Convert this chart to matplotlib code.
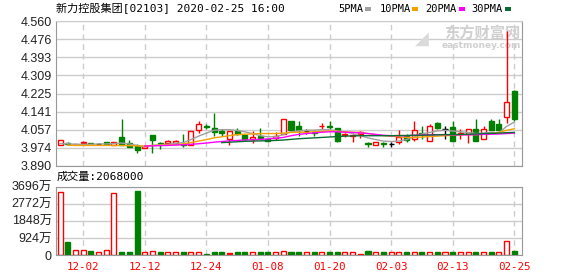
import matplotlib
matplotlib.use("Agg")
import matplotlib.pyplot as plt
from matplotlib.patches import Rectangle
import numpy as np

# ---- data ----
title = "新力控股集团[02103] 2020-02-25 16:00"
tick_pos = [3, 11, 19, 27, 35, 43, 51, 59]
tick_labels = ["12-02", "12-12", "12-24", "01-08", "01-20", "02-03", "02-13", "02-25"]
price_levels = [3.890, 3.974, 4.057, 4.141, 4.225, 4.309, 4.393, 4.476, 4.560]
price_labels = ["3.890", "3.974", "4.057", "4.141", "4.225", "4.309", "4.393", "4.476", "4.560"]
vol_levels = [0, 924, 1848, 2772, 3696]
vol_labels = ["0", "924万", "1848万", "2772万", "3696万"]
last_volume = "2068000"

opens = [3.987, 3.998, 3.990, 3.995, 3.995, 3.990, 4.000, 3.988, 4.026, 3.996,
         3.982, 3.975, 4.035, 3.996, 3.995, 3.995, 3.993, 3.988, 4.058, 4.076,
         4.064, 4.050, 4.015, 4.054, 4.034, 4.015, 4.027, 4.016, 4.020, 4.037,
         4.096, 4.076, 4.052, 4.046, 4.074, 4.075, 4.065, 4.034, 4.029, 4.040,
         3.995, 3.988, 3.995, 3.993, 4.002, 4.028, 4.017, 4.043, 4.005, 4.089,
         4.063, 4.068, 4.040, 4.036, 4.063, 4.015, 4.096, 4.086, 4.118, 4.237]
highs = [4.011, 4.002, 3.993, 4.005, 3.997, 3.994, 4.000, 4.003, 4.106, 4.012,
         3.993, 3.988, 4.035, 4.002, 4.011, 4.010, 4.038, 4.052, 4.096, 4.085,
         4.134, 4.062, 4.051, 4.064, 4.038, 4.051, 4.064, 4.020, 4.045, 4.106,
         4.096, 4.096, 4.063, 4.055, 4.088, 4.098, 4.066, 4.043, 4.036, 4.052,
         4.002, 4.002, 4.002, 4.002, 4.055, 4.036, 4.099, 4.076, 4.083, 4.095,
         4.074, 4.100, 4.062, 4.063, 4.106, 4.076, 4.106, 4.106, 4.515, 4.240]
lows = [3.987, 3.985, 3.988, 3.995, 3.990, 3.988, 3.990, 3.988, 3.988, 3.977,
        3.952, 3.972, 3.952, 3.969, 3.995, 3.995, 3.980, 3.988, 4.043, 4.063,
        4.030, 4.030, 3.987, 4.035, 4.012, 3.998, 4.015, 4.005, 4.012, 4.037,
        4.045, 4.028, 4.036, 4.030, 4.061, 4.060, 4.003, 4.026, 4.000, 4.018,
        3.980, 3.988, 3.980, 3.980, 3.992, 4.002, 4.005, 4.013, 4.005, 4.060,
        4.015, 4.005, 4.013, 3.994, 4.005, 4.015, 4.055, 4.055, 4.087, 4.100]
closes = [4.011, 3.993, 3.990, 4.000, 3.993, 3.990, 3.990, 4.003, 3.988, 3.977,
          3.966, 3.982, 4.012, 3.992, 4.004, 4.005, 3.987, 4.052, 4.085, 4.072,
          4.048, 4.042, 4.051, 4.038, 4.015, 4.026, 4.018, 4.007, 4.028, 4.106,
          4.057, 4.057, 4.052, 4.042, 4.077, 4.071, 4.005, 4.037, 4.033, 4.046,
          3.991, 4.000, 3.991, 3.993, 4.025, 4.010, 4.055, 4.039, 4.073, 4.065,
          4.063, 4.005, 4.044, 4.063, 4.005, 4.063, 4.055, 4.055, 4.185, 4.109]

nan = np.nan
ma5 = [3.993, 3.993, 3.990, 3.990, 3.990, 3.992, 3.992, 3.994, 3.996, 3.992,
       3.985, 3.980, 3.985, 3.988, 3.990, 3.995, 3.998, 4.012, 4.028, 4.042,
       4.055, 4.058, 4.058, 4.054, 4.048, 4.040, 4.030, 4.025, 4.025, 4.035,
       4.048, 4.052, 4.055, 4.056, 4.058, 4.058, 4.052, 4.048, 4.040, 4.030,
       4.020, 4.012, 4.005, 4.003, 4.005, 4.012, 4.025, 4.038, 4.045, 4.052,
       4.055, 4.052, 4.048, 4.045, 4.040, 4.042, 4.045, 4.043, 4.073, 4.093]
ma10 = [nan, 3.986, 3.985, 3.985, 3.985, 3.985, 3.985, 3.985, 3.985, 3.984,
        3.983, 3.982, 3.985, 3.986, 3.987, 3.988, 3.992, 3.998, 4.005, 4.012,
        4.020, 4.025, 4.030, 4.035, 4.037, 4.038, 4.040, 4.040, 4.040, 4.042,
        4.045, 4.046, 4.046, 4.048, 4.050, 4.052, 4.050, 4.048, 4.046, 4.045,
        4.040, 4.035, 4.030, 4.028, 4.025, 4.022, 4.022, 4.024, 4.026, 4.028,
        4.030, 4.032, 4.034, 4.035, 4.035, 4.038, 4.040, 4.045, 4.055, 4.062]
ma20 = [nan, nan, nan, nan, nan, nan, nan, nan, nan, nan,
        nan, 3.982, 3.983, 3.984, 3.985, 3.987, 3.988, 3.990, 3.993, 3.996,
        4.000, 4.003, 4.006, 4.008, 4.010, 4.011, 4.013, 4.015, 4.018, 4.022,
        4.030, 4.036, 4.040, 4.043, 4.046, 4.048, 4.048, 4.046, 4.045, 4.043,
        4.040, 4.036, 4.032, 4.030, 4.030, 4.030, 4.032, 4.033, 4.034, 4.035,
        4.035, 4.034, 4.034, 4.034, 4.035, 4.036, 4.037, 4.038, 4.040, 4.042]
ma30 = [nan, nan, nan, nan, nan, nan, nan, nan, nan, nan,
        nan, nan, nan, nan, nan, nan, nan, nan, nan, nan,
        nan, 3.998, 4.000, 4.002, 4.004, 4.005, 4.006, 4.007, 4.008, 4.010,
        4.013, 4.016, 4.018, 4.020, 4.022, 4.024, 4.026, 4.028, 4.029, 4.030,
        4.030, 4.030, 4.030, 4.030, 4.031, 4.031, 4.032, 4.032, 4.033, 4.034,
        4.035, 4.035, 4.036, 4.037, 4.038, 4.040, 4.041, 4.042, 4.044, 4.045]

# volume in 万 shares; style: r = red hollow, g = green filled, f = red filled
volume = [3420, 700, 253, 253, 217, 145, 253, 3350, 163, 163,
          3450, 145, 200, 163, 145, 145, 163, 145, 145, 55,
          163, 163, 110, 163, 163, 145, 163, 163, 145, 200,
          163, 163, 145, 163, 145, 163, 163, 145, 145, 36,
          217, 145, 163, 145, 145, 163, 145, 163, 145, 163,
          145, 163, 145, 145, 163, 145, 163, 145, 760, 206.8]
vol_style = list("rgrrgrrrgg" "grrgrrgrrg" "ggfggrggrr"
                 "ggrgrggrrf" "grgrrgrgrg" "rgrrgrgrrg")

RED = "#ff0000"
GREEN = "#008000"
GRID = "#cccccc"
BORDER = "#999999"
ma_colors = ["#a0a0a0", "#f4a100", "#ff00ff", "#0b6b35"]

mono_cjk = ["DejaVu Sans Mono", "Noto Sans CJK SC"]
sans_cjk = ["Liberation Sans", "Noto Sans CJK SC"]

W, H = 578, 276
fig = plt.figure(figsize=(W / 100, H / 100), dpi=100)
fig.patch.set_facecolor("white")

def fx(px):
    return px / W

def fy(py):
    return 1 - py / H

ax = fig.add_axes([fx(56), fy(166), fx(522) - fx(56), fy(21) - fy(166)])
axv = fig.add_axes([fx(56), fy(255), fx(522) - fx(56), fy(186.5) - fy(255)])

x = np.arange(len(closes))
bw = 0.65

# ---- candles ----
for i in x:
    o, h, l, c = opens[i], highs[i], lows[i], closes[i]
    if c > o:
        col, face = RED, "white"
    elif c < o:
        col, face = GREEN, GREEN
    else:
        col, face = "black", "black"
    ax.vlines(i, l, h, color=col, lw=1, zorder=2)
    if c == o:
        ax.hlines(o, i - bw / 2, i + bw / 2, color=col, lw=1, zorder=3)
    else:
        ax.bar(i, abs(c - o), bottom=min(o, c), width=bw, facecolor=face,
               edgecolor=col, lw=1, zorder=3)

for vals, col in zip([ma5, ma10, ma20, ma30], ma_colors):
    ax.plot(x, vals, color=col, lw=1, zorder=4)

ax.set_xlim(-0.52, 60.0)
ax.set_ylim(3.890, 4.560)
ax.set_yticks(price_levels)
ax.set_yticklabels(price_labels, family=sans_cjk, fontsize=9, color="#222222")
ax.set_xticks(tick_pos)
ax.set_xticklabels([])
ax.tick_params(length=0, pad=3)
ax.grid(axis="y", color=GRID, lw=1)
ax.grid(axis="x", color=GRID, lw=1, ls=(0, (4, 3)))
ax.set_axisbelow(True)
for side in ["left", "right", "bottom"]:
    ax.spines[side].set_color(BORDER)
ax.spines["top"].set_color(GRID)

# watermark
ax.text(0.997, 0.92, "东方财富网", transform=ax.transAxes, ha="right", va="center",
        family="Noto Sans CJK SC", fontweight="bold", fontsize=11,
        color="#d0d0d0", zorder=1)
ax.text(0.997, 0.83, "eastmoney.com", transform=ax.transAxes, ha="right",
        va="center", family="DejaVu Sans", fontweight="bold", fontsize=6.5,
        color="#d0d0d0", zorder=1)
ax.text(0.785, 0.88, "◢", transform=ax.transAxes, ha="center", va="center",
        family="DejaVu Sans", fontsize=13, color="#dadada", zorder=1)

# ---- volume ----
for i in x:
    s = vol_style[i]
    if s == "g":
        axv.bar(i, volume[i], width=bw, facecolor=GREEN, edgecolor=GREEN, lw=1)
    elif s == "f":
        axv.bar(i, volume[i], width=bw, facecolor=RED, edgecolor=RED, lw=1)
    else:
        axv.bar(i, volume[i], width=bw, facecolor="white", edgecolor=RED, lw=1)

axv.set_xlim(-0.52, 60.0)
axv.set_ylim(0, 3696)
axv.set_yticks(vol_levels)
axv.set_yticklabels(vol_labels, family=sans_cjk, fontsize=9, color="#222222")
axv.set_xticks(tick_pos)
axv.set_xticklabels(tick_labels, family="DejaVu Sans Mono", fontsize=7.8, color=RED)
axv.tick_params(length=0)
axv.tick_params(axis="y", pad=3)
axv.tick_params(axis="x", pad=5)
axv.grid(axis="y", color=GRID, lw=1)
axv.grid(axis="x", color=GRID, lw=1, ls=(0, (4, 3)))
axv.set_axisbelow(True)
for side in ["left", "right", "bottom", "top"]:
    axv.spines[side].set_color(BORDER)

# ---- header texts ----
fig.text(fx(56), fy(9), title, family=mono_cjk, fontsize=8, ha="left",
         va="center", color="black")
fig.text(fx(57), fy(177), "成交量:" + last_volume, family=mono_cjk, fontsize=8,
         ha="left", va="center", color="black")

legend_items = [("5PMA", 338, 365), ("10PMA", 380, 412), ("20PMA", 425, 459),
                ("30PMA", 471, 505)]
for (name, tx, sx), col in zip(legend_items, ma_colors):
    fig.text(fx(tx), fy(9), name, family="DejaVu Sans Mono", fontsize=7.5,
             ha="left", va="center", color="black")
    fig.patches.append(Rectangle((fx(sx), fy(10.5)), fx(6), fy(7.5) - fy(10.5),
                                 transform=fig.transFigure, facecolor=col,
                                 edgecolor="none"))

fig.savefig("out.png", dpi=100)
